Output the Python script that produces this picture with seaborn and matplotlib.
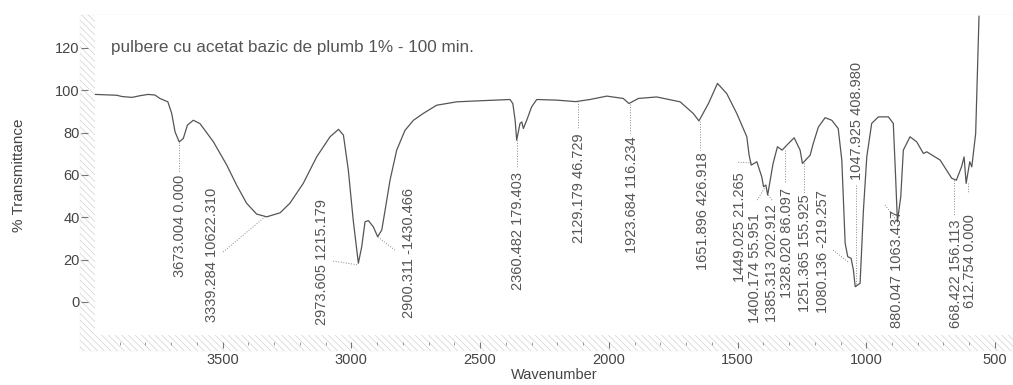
import matplotlib
matplotlib.use("Agg")
import matplotlib.pyplot as plt
from matplotlib.patches import Rectangle
import seaborn as sns
import pandas as pd

# spectrum (wavenumber, % transmittance)
wavenumber = [3996, 3911, 3891, 3852, 3821, 3790, 3763, 3744, 3713, 3698, 3685, 3669,
              3653, 3637, 3614, 3588, 3536, 3484, 3446, 3407, 3368, 3329, 3277, 3239,
              3187, 3135, 3083, 3050, 3031, 3012, 2993, 2973, 2960, 2947, 2934, 2915,
              2898, 2882, 2869, 2850, 2824, 2792, 2759, 2721, 2669, 2591, 2500, 2384,
              2373, 2364, 2358, 2345, 2338, 2332, 2319, 2300, 2280, 2202, 2129, 2073,
              2008, 1944, 1922, 1885, 1814, 1723, 1672, 1650, 1613, 1578, 1542, 1503,
              1464, 1455, 1447, 1425, 1406, 1399, 1390, 1383, 1362, 1345, 1327, 1296,
              1280, 1257, 1248, 1218, 1206, 1186, 1160, 1134, 1109, 1095, 1082, 1072,
              1059, 1050, 1043, 1024, 1011, 998, 979, 953, 914, 895, 886, 879, 866,
              856, 830, 804, 778, 765, 713, 668, 650, 630, 620, 612, 598, 590, 575, 562]
transmittance = [98.0, 97.6, 97.0, 96.6, 97.4, 98.0, 97.7, 96.1, 94.5, 89.0, 80.3, 75.6,
                 77.2, 83.5, 85.8, 84.2, 75.6, 64.6, 55.2, 46.6, 41.5, 40.2, 42.1, 46.6,
                 56.0, 68.5, 78.0, 81.5, 78.8, 62.3, 38.7, 18.3, 26.0, 37.9, 38.4, 35.5,
                 30.8, 34.0, 43.4, 57.5, 71.7, 81.0, 85.8, 89.0, 92.9, 94.5, 95.0, 95.6,
                 93.7, 85.8, 76.4, 84.3, 85.0, 81.9, 85.8, 92.1, 95.6, 95.3, 94.6, 95.6,
                 97.2, 96.1, 93.7, 96.1, 96.8, 94.5, 89.0, 85.5, 93.7, 103.2, 98.4, 89.0,
                 78.0, 69.3, 64.6, 66.2, 59.1, 54.4, 55.2, 50.5, 65.4, 73.3, 71.7, 75.6,
                 77.5, 71.7, 65.4, 69.3, 74.8, 82.6, 87.0, 85.8, 81.9, 67.0, 27.7, 21.4,
                 20.6, 15.1, 7.2, 8.8, 43.4, 68.5, 84.3, 87.4, 87.4, 84.3, 59.1, 37.9, 49.7,
                 71.7, 78.0, 75.6, 70.1, 70.9, 67.0, 58.4, 57.5, 63.8, 68.5, 56.0, 66.2,
                 63.8, 79.6, 135.0]

peak_labels = ["3673.004 0.000", "3339.284 10622.310", "2973.605 1215.179",
               "2900.311 -1430.466", "2360.482 179.403", "2129.179 46.729",
               "1923.684 116.234", "1651.896 426.918", "1449.025 21.265",
               "1400.174 55.951", "1385.313 202.912", "1328.020 86.097",
               "1251.365 155.925", "1080.136 -219.257", "1047.925 408.980",
               "880.047 1063.437", "668.422 156.113", "612.754 0.000"]

# label placement: text x, text bottom, leader line (x0, y0, x1, y1)
label_layout = [
    (3666, 11.8, (3669, 75.6, 3669, 61.3)),
    (3542, -9.4, (3499, 23.6, 3336, 40.1)),
    (3114, -10.8, (3071, 19.3, 2974, 17.5)),
    (2776, -7.5, (2897, 30.7, 2831, 24.5)),
    (2353, 5.7, (2356, 76.4, 2356, 63.2)),
    (2115, 27.8, (2120, 94.8, 2120, 82.0)),
    (1910, 23.1, (1918, 93.7, 1918, 79.7)),
    (1634, 15.1, (1645, 85.5, 1645, 71.7)),
    (1490, 9.4, (1498, 66.0, 1444, 65.6)),
    (1432, -9.9, (1424, 48.1, 1393, 54.2)),
    (1366, -9.4, (1366, 48.1, 1381, 50.5)),
    (1308, 1.9, (1314, 71.7, 1314, 56.6)),
    (1237, -4.7, (1240, 65.6, 1240, 51.4)),
    (1168, -5.2, (1129, 24.5, 1071, 18.9)),
    (1035, 57.5, (1040, 55.0, 1040, 7.2)),
    (880, -12.3, (927, 45.8, 883, 38.5)),
    (651, -12.3, (660, 57.5, 660, 41.0)),
    (596, -2.8, (604, 56.0, 604, 51.4)),
]

df = pd.DataFrame({"wavenumber": wavenumber, "transmittance": transmittance})

sns.set_style("white")
plt.rcParams["font.family"] = ["Liberation Sans", "DejaVu Sans"]
plt.rcParams["hatch.linewidth"] = 0.5

fig = plt.figure(figsize=(10.13, 3.85), dpi=100)
ax = fig.add_axes([95 / 1013, 1 - 335 / 385, 1 - 95 / 1013, 320 / 385])

# hatched frame band behind the plot area
band = Rectangle((80 / 1013, 1 - 351 / 385), 1 - 80 / 1013, 336 / 385,
                 transform=fig.transFigure, facecolor="white", edgecolor="#d2d2d2",
                 hatch="\\\\\\\\\\", lw=0.1, zorder=-1)
fig.patches.append(band)
ax.set_facecolor("white")

sns.lineplot(data=df, x="wavenumber", y="transmittance", sort=False, ax=ax,
             color="#555555", lw=0.9)

for text, (tx, ty, seg) in zip(peak_labels, label_layout):
    x0, y0, x1, y1 = seg
    ax.plot([x0, x1], [y0, y1], color="#8a8a8a", lw=0.7, ls=":")
    ax.text(tx, ty, text, rotation=90, ha="center", va="bottom",
            fontsize=10.5, color="#555555")

ax.text(3935, 120.3, "pulbere cu acetat bazic de plumb 1% - 100 min.",
        fontsize=12.3, color="#555555", ha="left", va="center")

ax.set_xlim(3996, 430)
ax.set_ylim(-15.6, 135.5)
ax.set_xticks([3500, 3000, 2500, 2000, 1500, 1000, 500])
ax.set_xticks(range(3900, 430, -100), minor=True)
ax.set_yticks([0, 20, 40, 60, 80, 100, 120])

for s in ax.spines.values():
    s.set_visible(False)
ax.spines["left"].set_position(("outward", 5))
ax.spines["bottom"].set_position(("outward", 5))

ax.tick_params(axis="y", direction="out", length=5, width=0.8, color="#777777",
               labelsize=10.5, labelcolor="#444444", pad=1, left=True)
ax.tick_params(axis="x", which="major", direction="out", length=4, width=0.8,
               color="#777777", labelsize=10.5, labelcolor="#444444", pad=4, bottom=True)
ax.tick_params(axis="x", which="minor", direction="out", length=2, width=0.6,
               color="#888888", bottom=True)

ax.set_xlabel("Wavenumber", fontsize=10.5, color="#444444", labelpad=1)
ax.set_ylabel("% Transmittance", fontsize=11, color="#444444", labelpad=21)

fig.savefig("out.png", dpi=100)
